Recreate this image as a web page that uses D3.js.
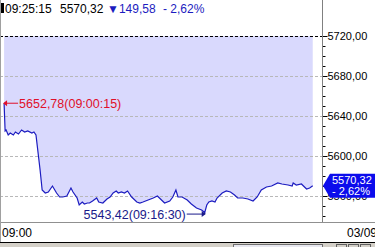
<!DOCTYPE html>
<html>
<head>
<meta charset="utf-8">
<script src="https://cdn.jsdelivr.net/npm/d3@7"></script>
<style>
  body { margin: 0; background: #fff; }
  svg { display: block; font-family: "Liberation Sans", Arial, sans-serif; }
</style>
</head>
<body>
<div id="chart"></div>
<script>
var svgWidth = 375;
var svgHeight = 247;

// intraday ticks (time, index value)
var times = ["09:00:15","09:00:20","09:00:25","09:00:35","09:00:45","09:01:00","09:01:10","09:01:25","09:01:40","09:01:55",
  "09:02:10","09:02:30","09:02:40","09:02:50","09:03:10","09:03:20","09:03:35","09:03:50","09:04:10","09:04:30",
  "09:04:45","09:05:00","09:05:20","09:05:40","09:05:50","09:06:10","09:06:20","09:06:35","09:06:45","09:07:00",
  "09:07:10","09:07:25","09:07:45","09:07:55","09:08:15","09:08:35","09:08:50","09:09:05","09:09:20","09:09:30",
  "09:09:45","09:10:00","09:10:15","09:10:35","09:11:00","09:11:15","09:11:30","09:11:55","09:12:20","09:12:40",
  "09:13:00","09:13:15","09:13:40","09:13:55","09:14:10","09:14:20","09:14:40","09:15:05","09:15:25","09:15:50",
  "09:16:15","09:16:30","09:16:40","09:16:50","09:17:05","09:17:20","09:17:30","09:17:55","09:18:15","09:18:35",
  "09:18:55","09:19:10","09:19:35","09:20:00","09:20:25","09:20:45","09:21:05","09:21:30","09:21:55","09:22:25",
  "09:22:45","09:23:15","09:23:35","09:23:40","09:23:55","09:24:20","09:24:35","09:24:45","09:25:00","09:25:15"];
var values = [5652.78,5625,5626,5621,5623,5621,5624,5622,5626,5624,
  5625,5623,5624,5621,5586,5566,5563,5564,5570,5563,
  5559,5559,5560,5568,5564,5558,5551,5554,5552,5553,
  5553,5555,5558,5554,5553,5557,5559,5563,5565,5563,
  5564,5563,5565,5559,5554,5553,5554,5556,5558,5560,
  5556,5553,5555,5559,5566,5559,5559,5556,5552,5548,
  5546,5543.42,5551,5554,5555,5554,5558,5563,5565,5564,
  5561,5558,5558,5557,5555,5559,5566,5569,5570,5573,
  5572,5571,5570,5573,5571,5572,5569,5567,5568,5570.32];

var yTicks = [5560, 5600, 5640, 5680, 5720];
var header = { time: "09:25:15", last: 5570.32, change: 149.58, pct: -2.62 };
var maxPoint = { time: "09:00:15", value: 5652.78 };
var minPoint = { time: "09:16:30", value: 5543.42 };
var startLabel = "09:00";
var dateLabel = "03/09";

var parseTime = d3.timeParse("%H:%M:%S");
var data = times.map(function (t, i) {
    return { t: parseTime(t), v: values[i] };
});

// korean style decimals: comma instead of dot
var fmt = function (v) { return d3.format(".2f")(Math.abs(v)).replace(".", ","); };

var blue = "#1c1cc0";
var red = "#e0102a";

var svg = d3.select("#chart")
    .append("svg")
    .attr("width", svgWidth)
    .attr("height", svgHeight);

var xScale = d3.scaleTime()
    .domain([parseTime("09:00:00"), parseTime("09:26:00")])
    .range([1, 322]);

var yScale = d3.scaleLinear()
    .domain([5534, 5720])
    .range([222, 36]);

// shaded area from the line up to the top gridline
var area = d3.area()
    .x(d => xScale(d.t))
    .y0(yScale(5720))
    .y1(d => yScale(d.v));

svg.append("path")
    .datum(data)
    .attr("d", area)
    .attr("fill", "#d9d9fd");

// gridlines
svg.selectAll(".grid")
    .data(yTicks)
    .enter()
    .append("line")
    .attr("x1", 0)
    .attr("x2", 322)
    .attr("y1", d => Math.round(yScale(d)) + 0.5)
    .attr("y2", d => Math.round(yScale(d)) + 0.5)
    .attr("stroke", d => d === 5720 ? "#000" : "#b8b8b8")
    .attr("stroke-dasharray", "3,2");

// price line
var line = d3.line()
    .x(d => xScale(d.t))
    .y(d => yScale(d.v));

svg.append("path")
    .datum(data)
    .attr("d", line)
    .attr("fill", "none")
    .attr("stroke", blue)
    .attr("stroke-width", 1.2);

// right axis
var rightAxis = d3.axisRight(yScale)
    .tickValues(d3.range(5540, 5721, 10))
    .tickSize(3)
    .tickFormat(d => yTicks.indexOf(d) >= 0 ? fmt(d) : "");

var axisG = svg.append("g")
    .attr("transform", "translate(322.5,0)")
    .call(rightAxis);
axisG.select(".domain").remove();
axisG.selectAll(".tick line").attr("stroke", "#000");
axisG.selectAll(".tick text")
    .attr("x", 5)
    .attr("font-size", "11px")
    .attr("font-family", "Liberation Sans, Arial, sans-serif")
    .attr("fill", "#000");
axisG.selectAll(".tick")
    .filter(d => yTicks.indexOf(d) >= 0)
    .select("line")
    .attr("x2", 5);

svg.append("line")
    .attr("x1", 322.5).attr("x2", 322.5)
    .attr("y1", 0).attr("y2", 222)
    .attr("stroke", "#808080");

// bottom time axis
svg.append("line")
    .attr("x1", 0).attr("x2", svgWidth)
    .attr("y1", 222.5).attr("y2", 222.5)
    .attr("stroke", "#909090");

svg.append("text")
    .attr("x", xScale(parseTime(startLabel + ":00")) + 1)
    .attr("y", 237)
    .attr("font-size", "12px")
    .text(startLabel);

svg.append("text")
    .attr("x", 347)
    .attr("y", 237)
    .attr("font-size", "12px")
    .text(dateLabel);

// frame and bottom toolbar
svg.append("line")
    .attr("x1", 0.5).attr("x2", 0.5)
    .attr("y1", 0).attr("y2", 242)
    .attr("stroke", "#a0a0a0");

svg.append("rect")
    .attr("x", 0).attr("y", 242)
    .attr("width", svgWidth).attr("height", 5)
    .attr("fill", "#d4d0c8");
svg.append("line")
    .attr("x1", 0).attr("x2", svgWidth)
    .attr("y1", 242.5).attr("y2", 242.5)
    .attr("stroke", "#000");
svg.append("rect")
    .attr("x", 233.5).attr("y", 244.5)
    .attr("width", 89).attr("height", 4)
    .attr("fill", "#e8e8f0")
    .attr("stroke", "#707070");
[336, 348, 360].forEach(function (bx) {
    svg.append("rect")
        .attr("x", bx + 0.5).attr("y", 244.5)
        .attr("width", 10).attr("height", 4)
        .attr("fill", "#d4d0c8")
        .attr("stroke", "#606060");
});

// header
svg.append("rect")
    .attr("x", 1).attr("y", 3)
    .attr("width", 3).attr("height", 10)
    .attr("fill", "#000");

var headerText = svg.append("text")
    .attr("y", 13)
    .attr("font-size", "12px");
headerText.append("tspan").attr("x", 5).text(header.time);
headerText.append("tspan").attr("x", 60).text(fmt(header.last));
headerText.append("tspan").attr("x", 107).attr("fill", blue).text("\u25BC" + fmt(header.change));
headerText.append("tspan").attr("x", 163).attr("fill", blue).text("- " + fmt(header.pct) + "%");

// max annotation
var maxX = xScale(parseTime(maxPoint.time));
var maxY = yScale(maxPoint.value);
svg.append("line")
    .attr("x1", maxX).attr("x2", maxX + 14)
    .attr("y1", maxY).attr("y2", maxY)
    .attr("stroke", red);
svg.append("path")
    .attr("d", `M${maxX - 1},${maxY} l4,-3 l0,6 z`)
    .attr("fill", red);
svg.append("text")
    .attr("x", maxX + 15)
    .attr("y", maxY + 4.5)
    .attr("font-size", "12.5px")
    .attr("fill", red)
    .text(fmt(maxPoint.value) + "(" + maxPoint.time + ")");

// min annotation
var minX = xScale(parseTime(minPoint.time));
var minY = yScale(minPoint.value);
svg.append("text")
    .attr("x", minX - 19)
    .attr("y", minY + 6)
    .attr("text-anchor", "end")
    .attr("font-size", "12.5px")
    .attr("fill", "#1a1a8a")
    .text(fmt(minPoint.value) + "(" + minPoint.time + ")");
svg.append("path")
    .attr("d", `M${minX - 18},${minY + 1.5} L${minX},${minY + 1.5} L${minX},${minY}`)
    .attr("fill", "none")
    .attr("stroke", "#1a1a8a");
svg.append("path")
    .attr("d", `M${minX + 1},${minY + 1.5} l-4,-3 l0,6 z`)
    .attr("fill", "#1a1a8a");

// last value tag
var lastY = yScale(values[values.length - 1]);
svg.append("path")
    .attr("d", `M323,${lastY} L330,${lastY - 12} L375,${lastY - 12} L375,${lastY + 12} L330,${lastY + 12} Z`)
    .attr("fill", "#0c0cec");
var tag = svg.append("text")
    .attr("font-size", "11px")
    .attr("fill", "#fff");
tag.append("tspan").attr("x", 332).attr("y", lastY - 1.5).text(fmt(header.last));
tag.append("tspan").attr("x", 332).attr("y", lastY + 9.5).text("- " + fmt(header.pct) + "%");
</script>
</body>
</html>
